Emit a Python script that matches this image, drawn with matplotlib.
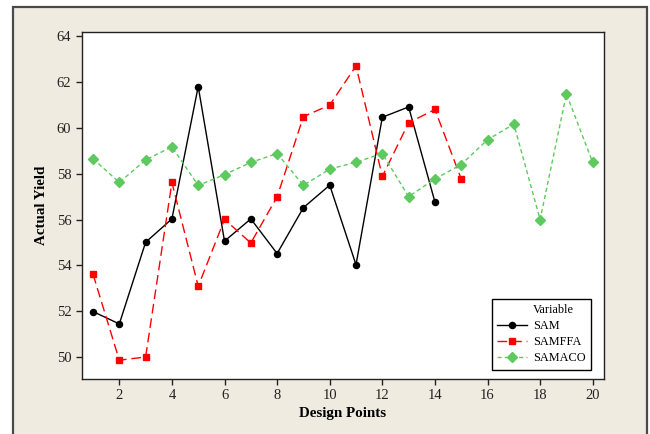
import matplotlib
matplotlib.use("Agg")
import matplotlib.pyplot as plt
from matplotlib.patches import Rectangle
from matplotlib.lines import Line2D

design_points = list(range(1, 21))
sam_x = list(range(1, 15))
sam = [51.99, 51.45, 55.01, 56.03, 61.8, 55.06, 56.03, 54.52, 56.52, 57.5, 54.03, 60.46, 60.91, 56.77]
samffa_x = list(range(1, 16))
samffa = [53.62, 49.87, 50.01, 57.62, 53.09, 56.01, 54.98, 56.99, 60.49, 60.99, 62.7, 57.88, 60.22, 60.8, 57.77]
samaco_x = list(range(1, 21))
samaco = [58.65, 57.62, 58.6, 59.17, 57.49, 57.96, 58.49, 58.88, 57.49, 58.2, 58.5, 58.88,
          57.0, 57.77, 58.4, 59.48, 60.16, 56.0, 61.48, 58.49]
x_ticks = [2, 4, 6, 8, 10, 12, 14, 16, 18, 20]
y_ticks = [50, 52, 54, 56, 58, 60, 62, 64]

plt.rcParams['font.family'] = ['Liberation Serif', 'DejaVu Serif']

W, H = 650, 434
fig = plt.figure(figsize=(W / 100, H / 100), dpi=100, facecolor='white')

# outer beige panel with dark border
fig.patches.append(Rectangle((12.5 / W, -0.05), (647 - 12.5) / W, 1.05 - 7.5 / H,
                             transform=fig.transFigure, facecolor='#EFEBE1',
                             edgecolor='#4a4a4a', linewidth=1.6, zorder=-10))

ax = fig.add_axes([81.7 / W, 1 - 379 / H, (604.3 - 81.7) / W, (379 - 31.7) / H])
ax.set_zorder(1)
ax.set_facecolor('white')

l1, = ax.plot(sam_x, sam, color='black', linestyle='-', linewidth=1.0,
              marker='o', markersize=4.4, label='SAM')
l2, = ax.plot(samffa_x, samffa, color='#FF0000', linestyle=(0, (7, 3.5)), linewidth=1.0,
              marker='s', markersize=4.2, label='SAMFFA')
l3, = ax.plot(samaco_x, samaco, color='#5EC95E', linestyle=(0, (3, 2.2)), linewidth=1.0,
              marker='D', markersize=5.0, label='SAMACO')

ax.set_xlim(0.57, 20.44)
ax.set_ylim(49.05, 64.19)
ax.set_xticks(x_ticks)
ax.set_yticks(y_ticks)
ax.tick_params(direction='out', length=4, width=1, labelsize=10.5, colors='#222222')
for s in ax.spines.values():
    s.set_linewidth(1.0)
    s.set_color('#222222')

ax.set_xlabel('Design Points', fontsize=10.8, fontweight='bold', labelpad=3)
ax.set_ylabel('Actual Yield', fontsize=10.8, fontweight='bold', labelpad=6)

title_handle = Line2D([], [], linestyle='none', marker=None)
leg = ax.legend([title_handle, l1, l2, l3], ['Variable', 'SAM', 'SAMFFA', 'SAMACO'],
                loc='lower right', fontsize=8.8,
                frameon=True, fancybox=False, edgecolor='black', framealpha=1,
                handlelength=2.4, handletextpad=0.5, borderpad=0.45, labelspacing=0.33,
                borderaxespad=0, bbox_to_anchor=(0.9745, 0.026))
leg.get_frame().set_linewidth(1.0)

fig.savefig('out.png', dpi=100, facecolor=fig.get_facecolor())
